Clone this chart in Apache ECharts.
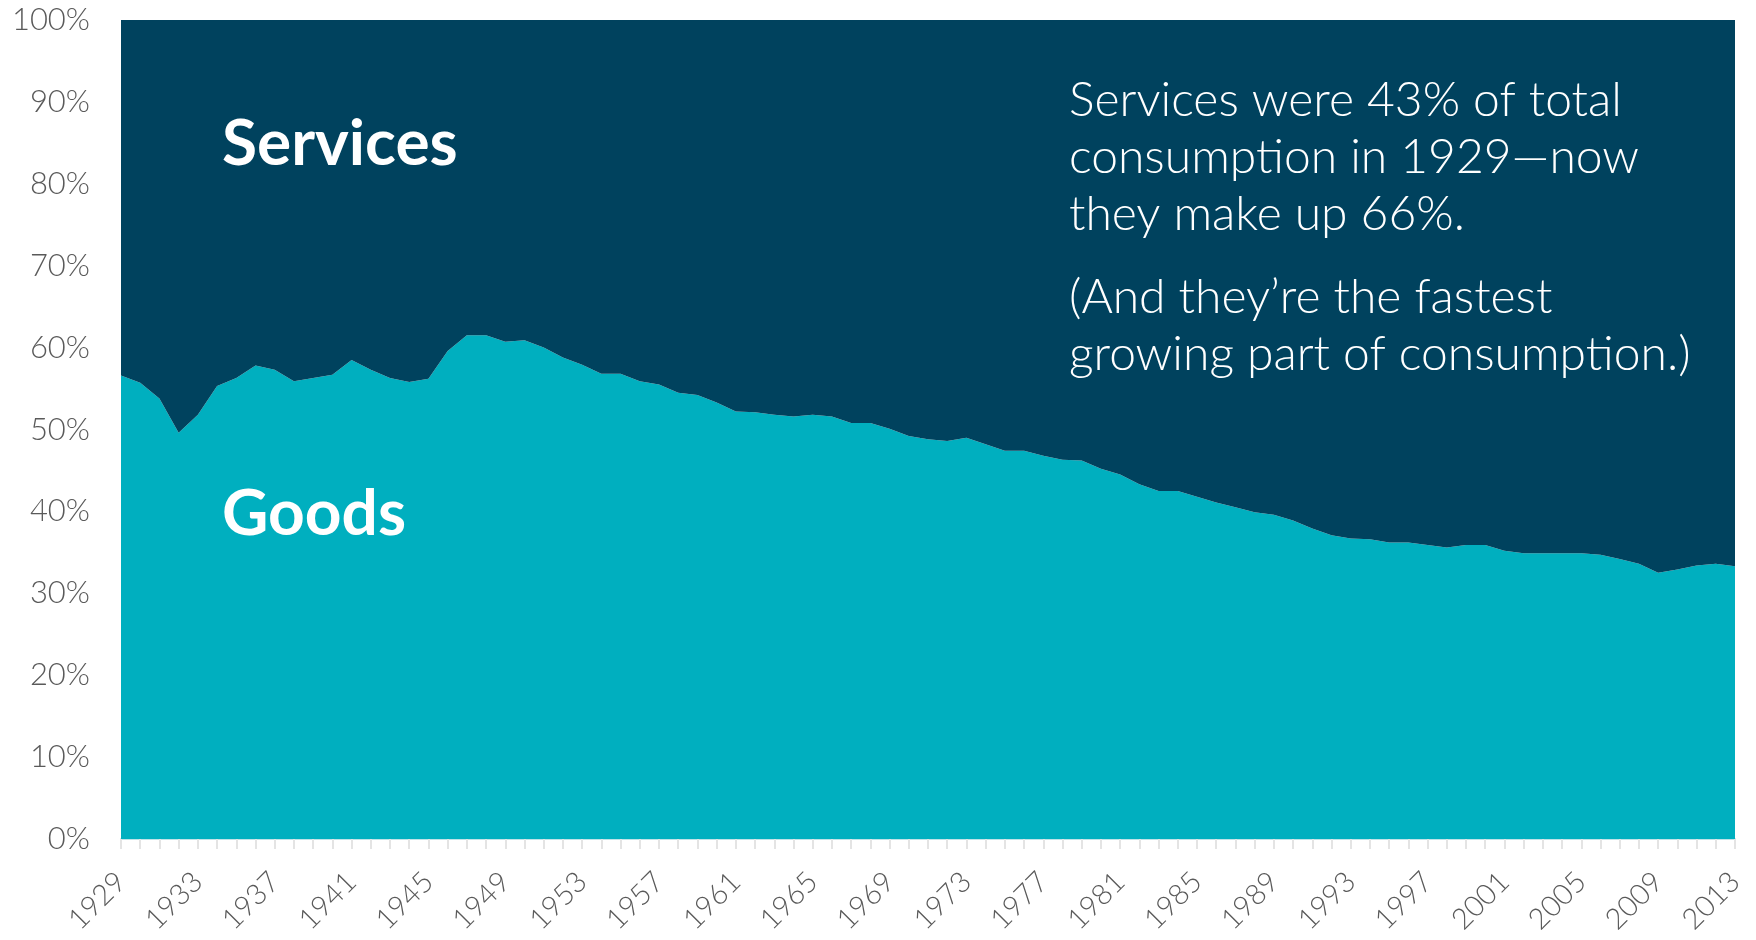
<!DOCTYPE html>
<html>
<head>
<meta charset="utf-8">
<script src="https://cdn.jsdelivr.net/npm/echarts@6/dist/echarts.min.js"></script>
<style>
  html, body { margin: 0; padding: 0; background: #fff; }
  #chart { width: 1756px; height: 940px; }
</style>
</head>
<body>
<div id="chart"></div>
<script>
// years on the x axis
const years = [
  '1929','1930','1931','1932','1933','1934','1935','1936','1937','1938',
  '1939','1940','1941','1942','1943','1944','1945','1946','1947','1948',
  '1949','1950','1951','1952','1953','1954','1955','1956','1957','1958',
  '1959','1960','1961','1962','1963','1964','1965','1966','1967','1968',
  '1969','1970','1971','1972','1973','1974','1975','1976','1977','1978',
  '1979','1980','1981','1982','1983','1984','1985','1986','1987','1988',
  '1989','1990','1991','1992','1993','1994','1995','1996','1997','1998',
  '1999','2000','2001','2002','2003','2004','2005','2006','2007','2008',
  '2009','2010','2011','2012','2013'
];

// share of total consumption, %
const goods = [
  56.6, 55.7, 53.8, 49.6, 51.8, 55.3, 56.3, 57.8, 57.3, 55.9,
  56.3, 56.7, 58.5, 57.3, 56.3, 55.8, 56.2, 59.6, 61.5, 61.5,
  60.7, 60.9, 60.0, 58.8, 57.9, 56.8, 56.8, 55.9, 55.5, 54.5,
  54.2, 53.3, 52.2, 52.1, 51.8, 51.6, 51.8, 51.6, 50.8, 50.8,
  50.1, 49.2, 48.8, 48.6, 49.0, 48.2, 47.4, 47.4, 46.8, 46.3,
  46.2, 45.2, 44.5, 43.3, 42.5, 42.5, 41.8, 41.1, 40.5, 39.9,
  39.6, 38.9, 37.9, 37.1, 36.7, 36.6, 36.2, 36.2, 35.9, 35.6,
  35.9, 35.9, 35.2, 34.9, 34.9, 34.9, 34.9, 34.7, 34.2, 33.6,
  32.5, 32.9, 33.4, 33.6, 33.3
];

const services = [
  43.4, 44.3, 46.2, 50.4, 48.2, 44.7, 43.7, 42.2, 42.7, 44.1,
  43.7, 43.3, 41.5, 42.7, 43.7, 44.2, 43.8, 40.4, 38.5, 38.5,
  39.3, 39.1, 40.0, 41.2, 42.1, 43.2, 43.2, 44.1, 44.5, 45.5,
  45.8, 46.7, 47.8, 47.9, 48.2, 48.4, 48.2, 48.4, 49.2, 49.2,
  49.9, 50.8, 51.2, 51.4, 51.0, 51.8, 52.6, 52.6, 53.2, 53.7,
  53.8, 54.8, 55.5, 56.7, 57.5, 57.5, 58.2, 58.9, 59.5, 60.1,
  60.4, 61.1, 62.1, 62.9, 63.3, 63.4, 63.8, 63.8, 64.1, 64.4,
  64.1, 64.1, 64.8, 65.1, 65.1, 65.1, 65.1, 65.3, 65.8, 66.4,
  67.5, 67.1, 66.6, 66.4, 66.7
];

const noteLines = [
  'Services were 43% of total',
  'consumption in 1929\u2014now',
  'they make up 66%.'
];
const noteLines2 = [
  '(And they\u2019re the fastest',
  'growing part of consumption.)'
];

const GOODS = '#00AFBF';
const SERVICES = '#00425E';
const FONT = 'Lato, "Open Sans", sans-serif';

const chart = echarts.init(document.getElementById('chart'));

chart.setOption({
  animation: false,
  grid: {
    left: 121, right: 21, top: 20, bottom: 101,
    containLabel: false,
    outerBoundsMode: 'none'
  },
  xAxis: {
    type: 'category',
    data: years,
    boundaryGap: false,
    axisLine: { lineStyle: { color: '#bfe3e8', width: 2 } },
    axisTick: { interval: 0, length: 10, lineStyle: { color: '#e4e4e4', width: 2 } },
    axisLabel: {
      interval: 3,
      rotate: 45,
      margin: 38,
      fontFamily: FONT,
      fontWeight: 300,
      fontSize: 29,
      color: '#5a5a5a'
    }
  },
  yAxis: {
    type: 'value',
    min: 0,
    max: 100,
    interval: 10,
    splitLine: { show: false },
    axisLine: { show: false },
    axisTick: { show: false },
    axisLabel: {
      formatter: '{value}%',
      margin: 31,
      fontFamily: FONT,
      fontWeight: 300,
      fontSize: 31,
      color: '#5a5a5a'
    }
  },
  series: [
    {
      name: 'Goods',
      type: 'line',
      stack: 'total',
      data: goods,
      symbol: 'none',
      lineStyle: { width: 0 },
      areaStyle: { color: GOODS, opacity: 1 }
    },
    {
      name: 'Services',
      type: 'line',
      stack: 'total',
      data: services,
      symbol: 'none',
      lineStyle: { width: 0 },
      areaStyle: { color: SERVICES, opacity: 1 }
    }
  ],
  graphic: [
    {
      type: 'text', left: 222, top: 112, z: 10,
      style: { text: 'Services', fill: '#fff', font: 'bold 64px ' + FONT }
    },
    {
      type: 'text', left: 222, top: 482, z: 10,
      style: { text: 'Goods', fill: '#fff', font: 'bold 64px ' + FONT }
    },
    {
      type: 'text', left: 1069, top: 72, z: 10,
      style: {
        text: noteLines.join('\n'),
        fill: '#fff',
        font: '300 48px ' + FONT,
        lineHeight: 57
      }
    },
    {
      type: 'text', left: 1069, top: 269, z: 10,
      style: {
        text: noteLines2.join('\n'),
        fill: '#fff',
        font: '300 48px ' + FONT,
        lineHeight: 57
      }
    }
  ]
});
</script>
</body>
</html>
